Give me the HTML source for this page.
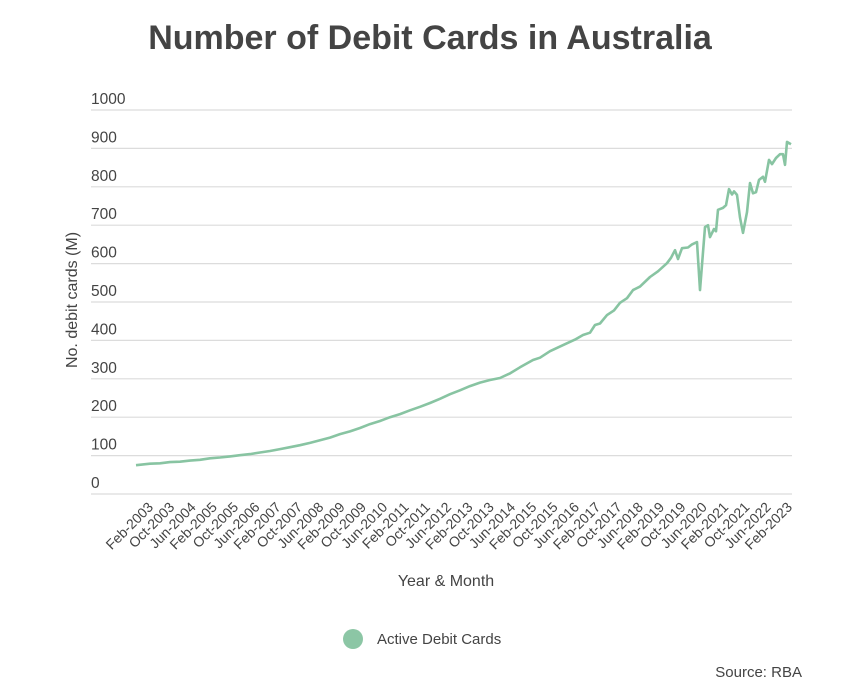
<!DOCTYPE html>
<html><head><meta charset="utf-8"><style>
html,body{margin:0;padding:0;background:#fff;}
svg{display:block;font-family:"Liberation Sans",sans-serif;}
</style></head><body>
<svg id="s" width="848" height="695" viewBox="0 0 848 695" xmlns="http://www.w3.org/2000/svg">
<text x="430" y="49" text-anchor="middle" font-size="34" font-weight="bold" fill="#444">Number of Debit Cards in Australia</text>
<g id="grid" stroke="#dcdcdc" stroke-width="1.2"></g>
<g id="ylab" font-size="15.5" fill="#444"></g>
<g id="xlab" font-size="14" fill="#444"></g>
<text transform="translate(77,300) rotate(-90)" text-anchor="middle" font-size="16" fill="#444">No. debit cards (M)</text>
<text x="446" y="586" text-anchor="middle" font-size="16" fill="#444">Year &amp; Month</text>
<polyline id="line" fill="none" stroke="#88c4a2" stroke-width="2.6" stroke-linejoin="round"></polyline>
<circle cx="353" cy="639" r="10" fill="#8cc6a5"/>
<text x="377" y="644" font-size="15" fill="#444">Active Debit Cards</text>
<text x="802" y="677" text-anchor="end" font-size="15" fill="#444">Source: RBA</text>
</svg>
<script>
var NS="http://www.w3.org/2000/svg";
function el(t,a,p,txt){var e=document.createElementNS(NS,t);for(var k in a)e.setAttribute(k,a[k]);if(txt)e.textContent=txt;document.getElementById(p).appendChild(e);return e;}
function Y(v){return 494-0.384*v;}
for(var i=0;i<=10;i++){var y=Y(i*100);el('line',{x1:91,x2:792,y1:y,y2:y},'grid');el('text',{x:91,y:y-6},'ylab',String(i*100));}
for(var i=0;i<=30;i++){var m=(1+i*8);var yr=2003+Math.floor(m/12);var mo=m%12;var nm={1:'Feb',9:'Oct',5:'Jun'}[mo];
var x=154+21.3*i;el('text',{x:x,y:508,'text-anchor':'end',transform:'rotate(-45 '+x+' 508)'},'xlab',nm+'-'+yr);}
var pts=[[136,75],[150,79],[160,80],[170,83],[180,84],[190,87],[200,89],[210,93],[220,95],[230,98],[240,101],[250,104],[260,108],[270,112],[280,117],[290,122],[300,127],[310,133],[320,140],[330,147],[340,156],[350,163],[360,172],[370,182],[380,190],[390,200],[400,208],[410,218],[420,227],[430,237],[440,248],[450,260],[460,270],[470,281],[480,290],[490,297],[500,302],[510,314],[520,330],[533,349],[540,355],[550,372],[565,390],[575,402],[583,414],[590,420],[595,440],[600,444],[607,466],[614,478],[620,498],[627,510],[633,531],[640,540],[650,565],[658,580],[667,601],[671,615],[675,635],[678,612],[682,640],[688,642],[692,650],[697,656],[700,531],[705,695],[708,700],[710,669],[714,690],[716,684],[718,740],[723,745],[726,752],[729,794],[732,780],[734,788],[737,779],[740,720],[743,680],[747,734],[750,810],[753,783],[756,786],[759,818],[763,826],[765,813],[769,870],[772,859],[776,875],[780,885],[783,885],[785,857],[787,917],[791,911]];
document.getElementById('line').setAttribute('points',pts.map(function(p){return p[0]+','+Y(p[1]).toFixed(1)}).join(' '));
</script>
</body></html>
